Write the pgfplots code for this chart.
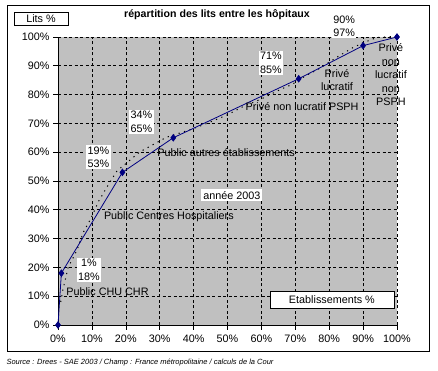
\documentclass[border=0pt]{standalone}
\usepackage{pgfplots}
\pgfplotsset{compat=1.18}
\usepackage{fontspec}
\setmainfont{Liberation Sans}
\definecolor{plotgray}{RGB}{192,192,192}
\definecolor{navyline}{RGB}{0,0,128}
\begin{document}
\begin{tikzpicture}[x=1pt,y=1pt]
\path[use as bounding box] (0,0) rectangle (438,371);
\draw[line width=0.8pt] (7,20) rectangle (429,366);
\node[font=\bfseries\fontsize{10.6}{12}\selectfont] at (217,356) {répartition des lits entre les hôpitaux};
\node[draw, line width=0.6pt, fill=white, minimum width=54pt, minimum height=13pt, inner sep=0pt, font=\fontsize{10.8}{12}\selectfont] at (41,352.5) {Lits \%};
\node[anchor=west, font=\itshape\fontsize{7.5}{8}\selectfont] at (3,8) {Source : Drees - SAE 2003 / Champ : France métropolitaine / calculs de la Cour};
\begin{axis}[
  at={(58pt,46pt)}, anchor=south west,
  scale only axis, width=339pt, height=288pt,
  xmin=0, xmax=100, ymin=0, ymax=100,
  axis lines*=left, axis line style={-, line width=0.8pt},
  axis background/.style={fill=plotgray},
  xtick={0,10,...,100}, ytick={0,10,...,100},
  xticklabels={0\%,10\%,20\%,30\%,40\%,50\%,60\%,70\%,80\%,90\%,100\%},
  yticklabels={0\%,10\%,20\%,30\%,40\%,50\%,60\%,70\%,80\%,90\%,100\%},
  tick align=outside, major tick length=5pt,
  tick style={black, line width=0.6pt},
  grid=major, grid style={black, line width=0.6pt, dash pattern=on 3pt off 2.5pt},
  tick label style={font=\fontsize{10.8}{12}\selectfont},
  xticklabel style={yshift=-1pt},
  clip=false,
]
\addplot[black, line width=1pt, dash pattern=on 1.2pt off 4.5pt] coordinates {
(0.8,8) (1.4,12) (3,20) (5.6,26) (7.4,32) (9.7,37) (12,43) (14.8,48.6) (17.4,53.5)
(21,57) (24,60) (28.6,63) (32,65.2) (36,66.7) (39.5,68) (45,70.5) (50,73) (54,75.5)
(60,78.5) (66,82) (69,83.5) (73,86.5) (77,89) (83,93.5) (87,96.3) (90,98) (94,99.8) (100,100.3)
};
\addplot[navyline, line width=0.8pt, mark=diamond*, mark size=3.2pt, mark options={fill=navyline, draw=navyline}] coordinates {
(0,0) (1,18) (19,53) (34,65) (71,85.5) (90,97) (100,100)
};
\tikzset{lab/.style={fill=white, align=center, inner sep=1.5pt, font=\fontsize{10.8}{13.5}\selectfont},
         txt/.style={align=center, inner sep=0pt, font=\fontsize{10.8}{13.5}\selectfont}}
\node[lab] at (axis cs:9.1,19.1) {1\%\\18\%};
\node[lab] at (axis cs:11.9,58.3) {19\%\\53\%};
\node[lab] at (axis cs:24.6,70.5) {34\%\\65\%};
\node[lab] at (axis cs:62.8,91.1) {71\%\\85\%};
\node[lab] at (axis cs:84.4,103.8) {90\%\\97\%};
\node[txt] at (axis cs:14.6,11.5) {Public CHU CHR};
\node[txt] at (axis cs:32.7,37.5) {Public Centres Hospitaliers};
\node[txt] at (axis cs:49.6,60) {Public autres établissements};
\node[txt] at (axis cs:72,75.7) {Privé non lucratif PSPH};
\node[txt] at (axis cs:82.3,85) {Privé\\lucratif};
\node[txt] at (axis cs:98.2,86.8) {Privé\\non\\lucratif\\non\\PSPH};
\node[fill=white, inner sep=2pt, font=\fontsize{10.8}{12}\selectfont] at (axis cs:51.3,45.1) {année 2003};
\node[draw, line width=0.6pt, fill=white, minimum width=124pt, minimum height=17pt, inner sep=0pt, font=\fontsize{10.8}{12}\selectfont] at (axis cs:80.8,8.9) {Etablissements \%};
\end{axis}
\end{tikzpicture}
\end{document}
